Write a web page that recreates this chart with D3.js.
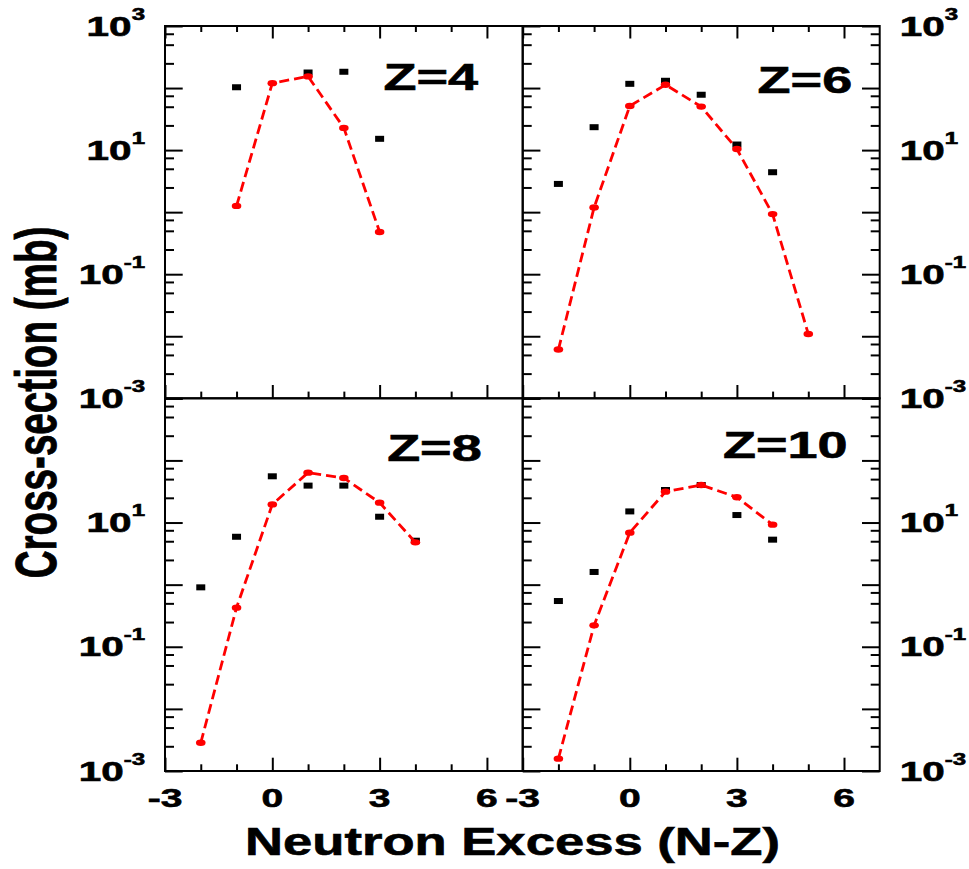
<!DOCTYPE html>
<html>
<head>
<meta charset="utf-8">
<script src="https://cdn.jsdelivr.net/npm/d3@7"></script>
<style>
  html, body { margin: 0; padding: 0; background: #fff; }
  svg { display: block; }
  text { font-family: "Liberation Sans", Arial, Helvetica, sans-serif; font-weight: bold; fill: #000; stroke: #000; stroke-width: 0.6px; }
</style>
</head>
<body>
<svg id="chart" width="969" height="869"></svg>
<script>
// ---------------- data ----------------
const xMajorTicks = [-3, 0, 3, 6];
const xMinorTicks = [-2, -1, 1, 2, 4, 5];
const yMajorTicks = [1e-3, 1e-2, 1e-1, 1e0, 1e1, 1e2, 1e3];
const yMinorMantissas = [2.5, 5, 7.5];
const yLabelsTop = [1e3, 1e1, 1e-1, 1e-3];
const yLabelsBottom = [1e1, 1e-1, 1e-3];
const panelNames = ["Z=4", "Z=6", "Z=8", "Z=10"];

// experimental (black squares)
const z4ExpX = [-1, 1, 2, 3];
const z4Exp = [103, 178, 183, 15.2];
const z6ExpX = [-2, -1, 0, 1, 2, 3, 4];
const z6Exp = [2.85, 23.4, 117, 131, 78, 12.3, 4.4];
const z8ExpX = [-2, -1, 0, 1, 2, 3, 4];
const z8Exp = [0.905, 5.9, 55.5, 39.3, 39.3, 12.4, 5.1];
const z10ExpX = [-2, -1, 0, 1, 2, 3, 4];
const z10Exp = [0.545, 1.6, 15.1, 33.4, 40.2, 13.2, 5.3];

// calculation (red dashed line with dots)
const z4CalcX = [-1, 0, 1, 2, 3];
const z4Calc = [1.26, 120, 154, 22.8, 0.48];
const z6CalcX = [-2, -1, 0, 1, 2, 3, 4, 5];
const z6Calc = [0.0061, 1.19, 51.4, 113, 50.2, 10.4, 0.93, 0.0109];
const z8CalcX = [-2, -1, 0, 1, 2, 3, 4];
const z8Calc = [0.00285, 0.426, 19.6, 63.5, 52.1, 20.9, 4.8];
const z10CalcX = [-2, -1, 0, 1, 2, 3, 4];
const z10Calc = [0.00158, 0.221, 6.87, 31.4, 40.2, 25.5, 9.25];

// ---------------- layout ----------------
const colX = [[165, 522.7], [522.7, 879.7]];
const rowY = [[26, 398.3], [398.3, 771]];
const TX = 1.5; // horizontal stretch of lettering

const panels = [
  { name: panelNames[0], col: 0, row: 0, expX: z4ExpX, exp: z4Exp, calcX: z4CalcX, calc: z4Calc, lab: [3.11, 93] },
  { name: panelNames[1], col: 1, row: 0, expX: z6ExpX, exp: z6Exp, calcX: z6CalcX, calc: z6Calc, lab: [3.58, 82] },
  { name: panelNames[2], col: 0, row: 1, expX: z8ExpX, exp: z8Exp, calcX: z8CalcX, calc: z8Calc, lab: [3.21, 99] },
  { name: panelNames[3], col: 1, row: 1, expX: z10ExpX, exp: z10Exp, calcX: z10CalcX, calc: z10Calc, lab: [2.61, 108] }
];

const yMinorTicks = [];
for (let e = -3; e < 3; e++) yMinorMantissas.forEach(m => yMinorTicks.push(m * Math.pow(10, e)));

const svg = d3.select("#chart");
svg.append("rect").attr("width", 969).attr("height", 869).attr("fill", "#fff");

function expLabel(g, x, y, v, anchor) {
  const e = Math.round(Math.log10(v));
  const t = g.append("text")
    .attr("transform", `translate(${x},${y + 9.5}) scale(${TX},1)`)
    .attr("text-anchor", anchor)
    .style("font-size", "27px");
  t.append("tspan").text("10");
  t.append("tspan").attr("dy", -16).style("font-size", "16px").text(e < 0 ? "-" + Math.abs(e) : String(e));
}

function styleAxis(sel) {
  sel.select(".domain").remove();
  sel.selectAll(".tick line").attr("stroke", "#000").attr("stroke-width", 2);
  sel.selectAll(".tick text").remove();
}

panels.forEach(p => {
  const [x0, x1] = colX[p.col];
  const [y0, y1] = rowY[p.row];
  const x = d3.scaleLinear().domain([-3, 7]).range([x0, x1]);
  const y = d3.scaleLog().domain([1e-3, 1e3]).range([y1, y0]);
  const g = svg.append("g");

  // y ticks on left border (inward)
  g.append("g").attr("transform", `translate(${x0},0)`)
    .call(d3.axisRight(y).tickValues(yMajorTicks).tickSize(17.7).tickFormat(""))
    .call(styleAxis);
  g.append("g").attr("transform", `translate(${x0},0)`)
    .call(d3.axisRight(y).tickValues(yMinorTicks).tickSize(9).tickFormat(""))
    .call(styleAxis);
  if (p.col === 1) {
    g.append("g").attr("transform", `translate(${x1},0)`)
      .call(d3.axisLeft(y).tickValues(yMajorTicks).tickSize(17.7).tickFormat(""))
      .call(styleAxis);
    g.append("g").attr("transform", `translate(${x1},0)`)
      .call(d3.axisLeft(y).tickValues(yMinorTicks).tickSize(9).tickFormat(""))
      .call(styleAxis);
  }
  // x ticks bottom (inward)
  g.append("g").attr("transform", `translate(0,${y1})`)
    .call(d3.axisTop(x).tickValues(xMajorTicks).tickSize(13.3).tickFormat(""))
    .call(styleAxis);
  g.append("g").attr("transform", `translate(0,${y1})`)
    .call(d3.axisTop(x).tickValues(xMinorTicks).tickSize(6.7).tickFormat(""))
    .call(styleAxis);
  if (p.row === 0) {
    g.append("g").attr("transform", `translate(0,${y0})`)
      .call(d3.axisBottom(x).tickValues(xMajorTicks).tickSize(12.5).tickFormat(""))
      .call(styleAxis);
    g.append("g").attr("transform", `translate(0,${y0})`)
      .call(d3.axisBottom(x).tickValues(xMinorTicks).tickSize(6).tickFormat(""))
      .call(styleAxis);
  }

  // frame
  g.append("rect").attr("x", x0).attr("y", y0).attr("width", x1 - x0).attr("height", y1 - y0)
    .attr("fill", "none").attr("stroke", "#000").attr("stroke-width", 2);

  // experimental squares
  g.selectAll("rect.exp").data(p.exp).enter().append("rect")
    .attr("class", "exp")
    .attr("x", (d, i) => x(p.expX[i]) - 4.5)
    .attr("y", d => y(d) - 3)
    .attr("width", 9).attr("height", 6)
    .attr("fill", "#000");

  // calc dashed line
  const pts = p.calc.map((d, i) => [p.calcX[i], d]);
  g.append("path").datum(pts)
    .attr("d", d3.line().x(d => x(d[0])).y(d => y(d[1])))
    .attr("fill", "none").attr("stroke", "#ff0000").attr("stroke-width", 2.8)
    .attr("stroke-dasharray", "10,5");
  g.selectAll("ellipse.calc").data(pts).enter().append("ellipse")
    .attr("class", "calc")
    .attr("cx", d => x(d[0])).attr("cy", d => y(d[1]))
    .attr("rx", 4.8).attr("ry", 3.2)
    .attr("fill", "#ff0000");

  // panel label
  g.append("text")
    .attr("transform", `translate(${x(p.lab[0])},${y(p.lab[1])}) scale(1.46,1)`)
    .style("font-size", "37px")
    .text(p.name);

  // y tick labels
  const labs = p.row === 0 ? yLabelsTop : yLabelsBottom;
  labs.forEach(v => {
    if (p.col === 0) expLabel(svg, x0 - 20, y(v), v, "end");
    else expLabel(svg, x1 + 20, y(v), v, "start");
  });

  // x tick labels
  if (p.row === 1) {
    xMajorTicks.forEach(t => {
      svg.append("text")
        .attr("transform", `translate(${x(t)},806.5) scale(${TX},1)`)
        .attr("text-anchor", "middle")
        .style("font-size", "26px")
        .text(String(t));
    });
  }
});

// axis titles
svg.append("text")
  .attr("x", 512.5).attr("y", 855)
  .attr("text-anchor", "middle")
  .attr("textLength", 535).attr("lengthAdjust", "spacingAndGlyphs")
  .style("font-size", "39px")
  .text("Neutron Excess (N-Z)");

svg.append("text")
  .attr("transform", "translate(56,402.5) scale(1.49,1) rotate(-90)")
  .attr("text-anchor", "middle")
  .style("font-size", "38.6px")
  .text("Cross-section (mb)");
</script>
</body>
</html>
